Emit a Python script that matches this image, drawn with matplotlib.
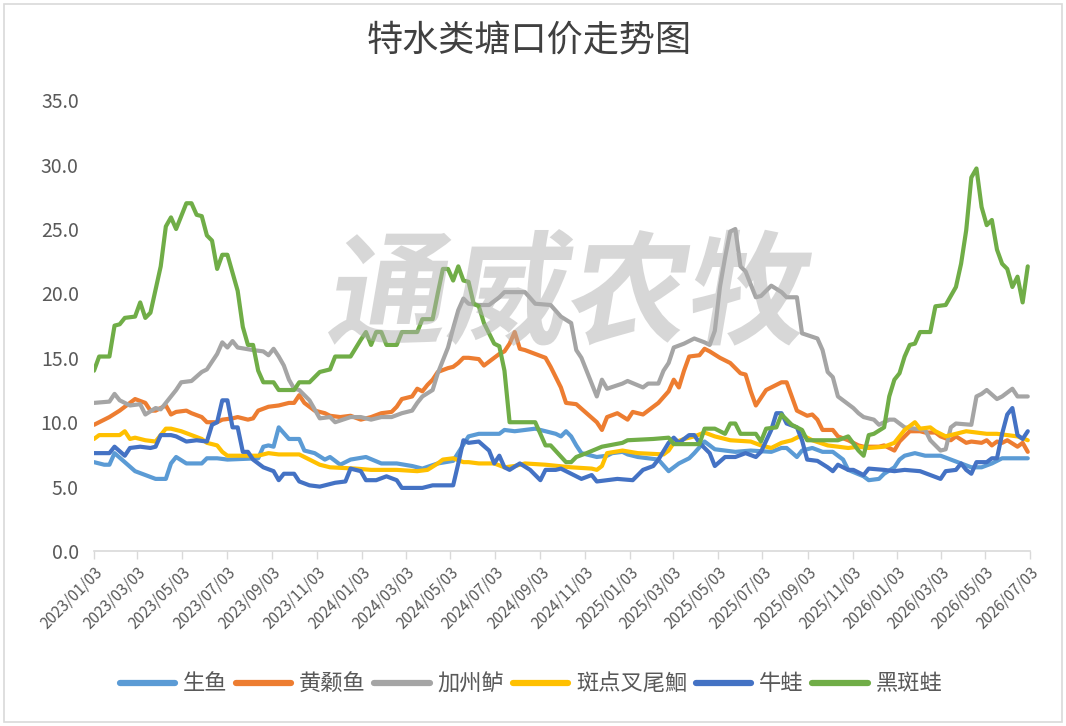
import matplotlib
matplotlib.use("Agg")
import matplotlib.pyplot as plt
from matplotlib.patches import Rectangle, PathPatch
from matplotlib.textpath import TextPath
from matplotlib.font_manager import FontProperties
import matplotlib.transforms as mtransforms
import pandas as pd

plt.rcParams['font.family'] = ['Noto Sans CJK SC', 'DejaVu Sans']

start_date = "2023-01-03"
end_date = "2026-07-03"

# week index (weeks since 2023-01-03) and price for each series
shengyu_w = [0, 2, 3, 4, 6, 8, 10, 12, 14, 15, 16, 18, 21, 22, 24, 26, 32, 33, 34, 35, 36, 38, 40, 41, 43, 45, 46, 48, 50, 53, 56, 59, 62, 64, 67, 70, 73, 75, 79, 80, 82, 84, 86, 88, 90, 91, 92, 93, 94, 95, 97, 98, 100, 101, 103, 104, 106, 108, 110, 112, 114, 116, 117, 119, 121, 123, 125, 128, 132, 134, 135, 137, 138, 140, 142, 144, 146, 147, 150, 151, 153, 154, 156, 157, 158, 160, 162, 165, 167, 169, 171, 173, 175, 177, 182]
shengyu_v = [6.9, 6.7, 6.7, 7.6, 6.9, 6.2, 5.9, 5.6, 5.6, 6.8, 7.3, 6.8, 6.8, 7.2, 7.2, 7.1, 7.2, 8.1, 8.2, 8.1, 9.6, 8.7, 8.7, 7.8, 7.6, 7.1, 7.3, 6.7, 7.1, 7.3, 6.8, 6.8, 6.6, 6.4, 6.8, 7.0, 8.9, 9.1, 9.1, 9.4, 9.3, 9.4, 9.5, 9.3, 9.1, 8.9, 9.3, 8.9, 8.2, 7.6, 7.4, 7.3, 7.4, 7.6, 7.7, 7.5, 7.3, 7.2, 7.1, 6.2, 6.8, 7.2, 7.6, 8.5, 7.9, 7.8, 7.7, 7.8, 7.7, 8.0, 8.0, 7.3, 7.8, 8.0, 7.7, 7.7, 7.1, 6.3, 5.8, 5.5, 5.6, 6.0, 6.5, 7.1, 7.4, 7.6, 7.4, 7.4, 7.1, 6.8, 6.5, 6.5, 6.8, 7.2, 7.2]

huangsang_w = [0, 2, 3, 5, 7, 8, 10, 11, 12, 14, 15, 16, 18, 19, 21, 22, 24, 25, 27, 28, 30, 31, 32, 34, 36, 38, 39, 40, 41, 43, 45, 46, 48, 50, 52, 54, 56, 58, 59, 60, 62, 63, 64, 65, 66, 67, 69, 70, 71, 72, 73, 75, 76, 78, 79, 80, 81, 82, 83, 84, 86, 88, 89, 90, 91, 92, 94, 96, 98, 99, 100, 102, 104, 105, 107, 108, 109, 110, 112, 113, 114, 115, 116, 118, 119, 120, 122, 124, 126, 127, 128, 129, 131, 132, 134, 135, 136, 137, 139, 140, 141, 142, 144, 145, 147, 149, 150, 153, 154, 156, 157, 158, 159, 161, 162, 164, 165, 167, 168, 170, 171, 173, 174, 175, 176, 177, 178, 180, 181, 182]
huangsang_v = [9.8, 10.2, 10.4, 10.9, 11.5, 11.8, 11.5, 10.9, 10.9, 11.3, 10.6, 10.8, 10.9, 10.7, 10.4, 10.0, 10.0, 10.2, 10.3, 10.4, 10.2, 10.3, 10.9, 11.2, 11.3, 11.5, 11.5, 12.1, 11.5, 10.9, 10.7, 10.5, 10.4, 10.5, 10.2, 10.4, 10.7, 10.8, 11.2, 11.8, 12.0, 12.6, 12.4, 12.9, 13.3, 13.9, 14.2, 14.3, 14.6, 15.0, 15.0, 14.9, 14.4, 15.0, 15.3, 15.5, 16.1, 17.0, 15.7, 15.6, 15.3, 15.0, 14.3, 13.5, 12.7, 11.5, 11.4, 10.7, 10.0, 9.4, 10.4, 10.7, 10.2, 10.8, 10.6, 10.9, 11.2, 11.5, 12.4, 13.3, 12.7, 14.0, 15.1, 15.2, 15.7, 15.5, 15.0, 14.6, 13.8, 13.7, 12.4, 11.3, 12.5, 12.7, 13.1, 13.1, 12.0, 10.9, 10.5, 10.6, 10.2, 9.4, 9.4, 8.9, 8.6, 8.2, 8.1, 8.1, 8.2, 7.8, 8.5, 8.9, 9.3, 9.3, 9.2, 9.2, 8.9, 8.6, 8.9, 8.4, 8.5, 8.4, 8.6, 8.2, 8.5, 8.4, 8.6, 8.1, 8.4, 7.7]

jiazhoulu_w = [0, 3, 4, 5, 7, 9, 10, 12, 13, 15, 16, 17, 19, 21, 22, 24, 25, 26, 27, 28, 31, 33, 34, 35, 36, 37, 38, 39, 40, 42, 44, 46, 47, 50, 52, 54, 56, 58, 60, 62, 63, 64, 66, 67, 69, 70, 71, 72, 73, 75, 77, 79, 80, 84, 86, 89, 91, 93, 94, 95, 97, 98, 99, 100, 103, 104, 107, 108, 110, 111, 112, 113, 115, 117, 119, 120, 121, 122, 123, 124, 125, 126, 127, 129, 130, 132, 134, 135, 137, 138, 141, 142, 143, 144, 145, 146, 148, 149, 150, 152, 153, 155, 156, 158, 160, 162, 163, 165, 166, 167, 168, 171, 172, 173, 174, 176, 177, 179, 180, 182]
jiazhoulu_v = [11.5, 11.6, 12.2, 11.7, 11.3, 11.4, 10.6, 11.1, 11.0, 12.0, 12.5, 13.1, 13.2, 13.9, 14.1, 15.3, 16.2, 15.8, 16.3, 15.8, 15.6, 15.5, 15.2, 15.7, 15.1, 14.4, 13.3, 12.6, 12.5, 11.7, 10.3, 10.4, 10.0, 10.4, 10.4, 10.2, 10.4, 10.4, 10.7, 10.9, 11.5, 12.0, 12.5, 13.8, 15.8, 17.3, 18.7, 19.6, 19.2, 19.1, 19.1, 19.7, 20.1, 20.1, 19.2, 19.1, 18.2, 17.7, 15.6, 15.0, 13.0, 12.0, 13.3, 12.6, 13.0, 13.2, 12.7, 13.0, 13.0, 14.0, 14.6, 15.8, 16.1, 16.5, 16.2, 16.0, 17.1, 20.5, 22.8, 24.8, 25.0, 22.1, 21.7, 19.7, 19.8, 20.6, 20.1, 19.7, 19.7, 16.9, 16.5, 15.6, 13.9, 13.5, 12.0, 11.7, 11.1, 10.7, 10.4, 10.2, 9.8, 10.2, 10.2, 9.6, 9.5, 9.4, 8.6, 7.8, 7.9, 9.6, 9.9, 9.8, 12.0, 12.2, 12.5, 11.8, 12.0, 12.6, 12.0, 12.0]

bandian_w = [0, 1, 5, 6, 7, 8, 10, 12, 13, 14, 15, 17, 19, 21, 22, 24, 25, 26, 32, 34, 36, 40, 42, 44, 46, 51, 54, 59, 63, 65, 67, 68, 70, 72, 73, 75, 78, 80, 82, 84, 88, 93, 97, 98, 99, 100, 103, 106, 111, 112, 113, 115, 117, 119, 121, 124, 128, 130, 132, 134, 136, 138, 140, 143, 145, 147, 149, 151, 154, 156, 158, 160, 161, 163, 164, 166, 168, 170, 172, 174, 176, 178, 180, 182]
bandian_v = [8.7, 9.0, 9.0, 9.3, 8.7, 8.8, 8.6, 8.5, 9.0, 9.5, 9.5, 9.3, 9.0, 8.7, 8.4, 8.2, 7.7, 7.4, 7.4, 7.6, 7.5, 7.5, 7.1, 6.7, 6.5, 6.4, 6.3, 6.3, 6.2, 6.3, 6.8, 7.1, 7.2, 6.9, 6.9, 6.8, 6.8, 6.5, 6.6, 6.8, 6.7, 6.5, 6.4, 6.3, 6.6, 7.6, 7.8, 7.6, 7.5, 7.8, 8.4, 8.7, 8.9, 9.2, 8.9, 8.6, 8.5, 8.2, 8.0, 8.4, 8.6, 9.0, 8.6, 8.2, 8.1, 8.0, 8.1, 8.0, 8.1, 8.4, 9.4, 10.0, 9.5, 9.6, 9.3, 8.9, 9.1, 9.3, 9.2, 9.1, 9.1, 9.0, 8.9, 8.6]

niuwa_w = [0, 3, 4, 6, 7, 9, 11, 12, 13, 15, 16, 18, 20, 22, 23, 24, 25, 26, 27, 28, 29, 30, 31, 33, 35, 36, 37, 39, 40, 42, 44, 45, 47, 49, 50, 52, 53, 55, 57, 59, 60, 64, 66, 70, 71, 72, 73, 75, 77, 78, 79, 80, 81, 83, 85, 87, 88, 90, 91, 93, 95, 97, 98, 102, 105, 107, 109, 110, 112, 113, 114, 116, 117, 118, 120, 121, 123, 125, 127, 129, 130, 132, 133, 134, 135, 137, 138, 139, 141, 143, 144, 145, 147, 148, 150, 151, 154, 156, 158, 161, 163, 165, 166, 168, 169, 170, 171, 172, 174, 175, 176, 177, 178, 179, 180, 181, 182]
niuwa_v = [7.6, 7.6, 8.1, 7.4, 8.0, 8.1, 8.0, 8.1, 9.0, 9.0, 8.9, 8.5, 8.6, 8.5, 9.8, 10.0, 11.7, 11.7, 9.6, 9.6, 7.7, 7.7, 7.1, 6.5, 6.2, 5.5, 6.0, 6.0, 5.4, 5.1, 5.0, 5.1, 5.3, 5.4, 6.4, 6.2, 5.5, 5.5, 5.8, 5.5, 4.9, 4.9, 5.1, 5.1, 6.8, 8.6, 8.4, 8.5, 7.8, 6.8, 7.4, 6.5, 6.3, 6.8, 6.3, 5.5, 6.3, 6.3, 6.4, 6.0, 5.6, 5.9, 5.4, 5.6, 5.5, 6.3, 6.6, 7.1, 8.4, 8.8, 8.4, 9.0, 9.0, 8.4, 7.6, 6.6, 7.3, 7.3, 7.6, 7.3, 7.7, 9.4, 10.7, 10.7, 9.9, 9.6, 8.6, 7.1, 7.0, 6.5, 6.2, 6.7, 6.3, 6.3, 5.9, 6.4, 6.3, 6.2, 6.3, 6.2, 5.9, 5.6, 6.2, 6.3, 6.8, 6.3, 6.0, 6.9, 6.9, 7.2, 7.2, 9.1, 10.6, 11.1, 9.0, 8.7, 9.3]

heibanwa_w = [0, 1, 3, 4, 5, 6, 8, 9, 10, 11, 13, 14, 15, 16, 18, 19, 20, 21, 22, 23, 24, 25, 26, 28, 29, 30, 31, 32, 33, 35, 36, 39, 40, 42, 44, 46, 47, 50, 52, 53, 54, 55, 56, 57, 59, 60, 63, 64, 66, 67, 68, 69, 70, 71, 72, 73, 74, 75, 76, 78, 79, 80, 81, 86, 88, 89, 92, 93, 94, 96, 99, 103, 104, 109, 112, 113, 118, 119, 121, 123, 124, 125, 126, 129, 130, 131, 133, 134, 136, 138, 139, 145, 147, 149, 150, 151, 152, 154, 155, 156, 157, 158, 159, 160, 161, 163, 164, 166, 168, 169, 170, 171, 172, 173, 174, 175, 176, 177, 178, 179, 180, 181, 182]
heibanwa_v = [14.0, 15.1, 15.1, 17.5, 17.6, 18.1, 18.2, 19.3, 18.1, 18.5, 22.1, 25.2, 25.9, 25.0, 27.0, 27.0, 26.1, 26.0, 24.5, 24.1, 21.9, 23.0, 23.0, 20.2, 17.4, 16.0, 16.0, 14.0, 13.1, 13.1, 12.5, 12.5, 13.1, 13.1, 13.9, 14.1, 15.1, 15.1, 16.4, 17.0, 16.0, 17.0, 17.0, 16.0, 16.0, 17.0, 17.0, 18.0, 18.0, 20.0, 21.9, 21.9, 21.0, 22.1, 21.0, 20.9, 19.2, 19.0, 17.7, 16.1, 15.9, 14.0, 10.0, 10.0, 8.2, 8.2, 6.9, 6.9, 7.3, 7.6, 8.1, 8.4, 8.6, 8.7, 8.8, 8.3, 8.3, 9.5, 9.5, 9.1, 9.9, 9.9, 9.1, 9.1, 8.5, 9.5, 9.6, 10.6, 9.8, 9.4, 8.6, 8.6, 8.9, 7.8, 7.4, 9.0, 9.1, 9.6, 12.0, 13.3, 13.8, 15.1, 16.0, 16.1, 17.0, 17.0, 19.0, 19.1, 20.5, 22.3, 24.9, 29.0, 29.7, 26.7, 25.3, 25.7, 23.4, 22.3, 21.9, 20.5, 21.3, 19.3, 22.1]

series_names = ["生鱼", "黄颡鱼", "加州鲈", "斑点叉尾鮰", "牛蛙", "黑斑蛙"]
series_weeks = [shengyu_w, huangsang_w, jiazhoulu_w, bandian_w, niuwa_w, heibanwa_w]
series_vals = [shengyu_v, huangsang_v, jiazhoulu_v, bandian_v, niuwa_v, heibanwa_v]
colors = ["#5B9BD5", "#ED7D31", "#A5A5A5", "#FFC000", "#4472C4", "#70AD47"]

y_ticks = [0, 5, 10, 15, 20, 25, 30, 35]
title_text = "特水类塘口价走势图"
watermark_text = "通威农牧"

t0 = pd.Timestamp(start_date)
t1 = pd.Timestamp(end_date)

W, H = 1066, 726
fig = plt.figure(figsize=(W / 100, H / 100), dpi=100)
fig.patch.set_facecolor("white")
ax = fig.add_axes([0.0882, 0.241, 0.878, 0.621])
ax.set_facecolor("none")

for name, wk, vals, c in zip(series_names, series_weeks, series_vals, colors):
    d = t0 + pd.to_timedelta([w * 7 for w in wk], unit="D")
    ax.plot(d, vals, color=c, lw=3.0, label=name, solid_joinstyle="round",
            solid_capstyle="round")

ax.set_xlim(t0, t1)
ax.set_ylim(0, 35)
ax.set_yticks(y_ticks)
ax.set_yticklabels([f"{v:.1f}" for v in y_ticks])

xt = [t0 + pd.DateOffset(months=2 * i) for i in range(22)]
ax.set_xticks(xt)
ax.set_xticklabels([t.strftime("%Y/%m/%d") for t in xt], rotation=45, ha="right",
                   rotation_mode="anchor")

for s in ["top", "right", "left"]:
    ax.spines[s].set_visible(False)
ax.spines["bottom"].set_color("#D9D9D9")
ax.spines["bottom"].set_linewidth(1.2)
ax.tick_params(axis="x", colors="#D9D9D9", length=6, width=1.0, labelcolor="#595959",
               labelsize=11, pad=3)
ax.tick_params(axis="y", length=0, labelcolor="#595959", labelsize=14, pad=11)

# watermark: slanted semi-transparent overlay (pixel coordinates)
tp = TextPath((0, 0), watermark_text, size=100,
              prop=FontProperties(family="Noto Sans CJK SC", weight="bold"))
skew = mtransforms.Affine2D().skew_deg(10, 0)
p1 = skew.transform_path(tp)
ext = p1.get_extents()
tx0, tx1, ty0, ty1 = 328, 812, H - 346, H - 229
sc = mtransforms.Affine2D().translate(-ext.x0, -ext.y0).scale(
    (tx1 - tx0) / ext.width, (ty1 - ty0) / ext.height).translate(tx0, ty0)
p2 = sc.transform_path(p1)
wm = PathPatch(p2, facecolor="#B0B0B0", edgecolor="none", lw=0, alpha=0.5,
               transform=mtransforms.IdentityTransform(), zorder=10)
fig.add_artist(wm)

fig.text(0.496, 0.944, title_text, fontsize=26, color="#404040", ha="center", va="center")

leg = fig.legend(loc="center", bbox_to_anchor=(0.498, 0.058), ncol=6, frameon=False,
                 fontsize=16, handlelength=2.5, columnspacing=0.38, handletextpad=0.35,
                 labelcolor="#595959")
for h in leg.get_lines():
    h.set_linewidth(4.5)
    h.set_solid_capstyle("round")

fig.patches.append(Rectangle((0.004, 0.006), 0.992, 0.988, transform=fig.transFigure,
                             fill=False, edgecolor="#D9D9D9", lw=1.2))

fig.savefig("out.png", dpi=100)
